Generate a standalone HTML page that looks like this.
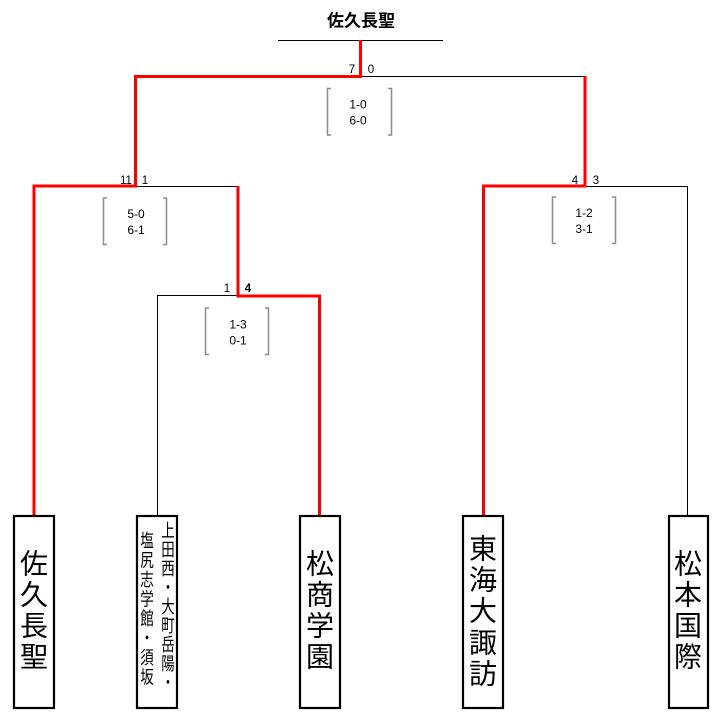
<!DOCTYPE html>
<html><head><meta charset="utf-8"><style>
html,body{margin:0;padding:0;background:#fff;}
svg{display:block;}
.s{font-family:"Liberation Sans","Noto Sans CJK JP",sans-serif;font-size:12px;fill:#000;}
.n{font-family:"Liberation Sans",sans-serif;font-size:11.5px;fill:#000;}
.t{font-family:"Liberation Sans","Noto Sans CJK JP",sans-serif;fill:#000;}
</style></head><body>
<svg width="718" height="720" viewBox="0 0 718 720" xmlns="http://www.w3.org/2000/svg">
<rect width="718" height="720" fill="#fff"/>
<!-- title -->
<text class="t" x="361" y="21" font-size="17" font-weight="bold" text-anchor="middle" dominant-baseline="central">佐久長聖</text>
<line x1="278" y1="40.5" x2="443" y2="40.5" stroke="#000" stroke-width="1"/>

<!-- black lines -->
<g stroke="#000" stroke-width="1" fill="none">
<polyline points="361,76.5 586,76.5"/>
<polyline points="136,186.5 238,186.5"/>
<polyline points="157.5,515 157.5,295.5 238,295.5"/>
<polyline points="585,186.5 687.5,186.5 687.5,515"/>
</g>

<!-- red lines -->
<g stroke="#ff0000" stroke-width="3" fill="none" stroke-linejoin="miter">
<polyline points="34,515 34,186 135.5,186 135.5,76.5 360.5,76.5 360.5,40"/>
<polyline points="238,186 238,296 319.5,296 319.5,515"/>
<polyline points="483.5,515 483.5,186 585,186 585,76"/>
</g>

<!-- score labels -->
<text class="n" x="352" y="73" text-anchor="middle">7</text>
<text class="n" x="371" y="73" text-anchor="middle">0</text>
<text class="n" x="126" y="184" text-anchor="middle">11</text>
<text class="n" x="145" y="184" text-anchor="middle">1</text>
<text class="n" x="227" y="292" text-anchor="middle">1</text>
<text class="n" x="248" y="292" text-anchor="middle" font-weight="bold" font-size="12.5">4</text>
<text class="n" x="575" y="184" text-anchor="middle">4</text>
<text class="n" x="596" y="184" text-anchor="middle">3</text>

<!-- score brackets -->
<g stroke="#8c8c8c" stroke-width="1.5" fill="none">
<polyline points="331,88.5 327.5,88.5 327.5,135 331,135"/>
<polyline points="388,88.5 391.5,88.5 391.5,135 388,135"/>
<polyline points="107,198 103.5,198 103.5,244.5 107,244.5"/>
<polyline points="163,198 166.5,198 166.5,244.5 163,244.5"/>
<polyline points="209,308 205.5,308 205.5,354.5 209,354.5"/>
<polyline points="265,308 268.5,308 268.5,354.5 265,354.5"/>
<polyline points="556,197 552.5,197 552.5,243.5 556,243.5"/>
<polyline points="612,197 615.5,197 615.5,243.5 612,243.5"/>
</g>
<g class="s" text-anchor="middle">
<text x="358" y="108.5">1-0</text>
<text x="358" y="124.5">6-0</text>
<text x="136" y="218">5-0</text>
<text x="136" y="234">6-1</text>
<text x="238" y="328.5">1-3</text>
<text x="238" y="344.5">0-1</text>
<text x="584" y="217">1-2</text>
<text x="584" y="233">3-1</text>
</g>

<!-- team boxes -->
<g stroke="#000" stroke-width="2.2" fill="#fff">
<rect x="14" y="516" width="40" height="192"/>
<rect x="137" y="516" width="40" height="192"/>
<rect x="300" y="516" width="40" height="192"/>
<rect x="463" y="516" width="40" height="192"/>
<rect x="669" y="516" width="39" height="192"/>
</g>

<g class="t" font-size="28" text-anchor="middle" dominant-baseline="central">
<text x="34" y="564">佐</text>
<text x="34" y="595">久</text>
<text x="34" y="626">長</text>
<text x="34" y="657">聖</text>

<text x="320" y="564">松</text>
<text x="320" y="595">商</text>
<text x="320" y="626">学</text>
<text x="320" y="657">園</text>

<text x="483" y="549">東</text>
<text x="483" y="580">海</text>
<text x="483" y="611">大</text>
<text x="483" y="643">諏</text>
<text x="483" y="674">訪</text>

<text x="688" y="564">松</text>
<text x="688" y="595">本</text>
<text x="688" y="626">国</text>
<text x="688" y="657">際</text>
</g>

<g class="t" font-size="18" text-anchor="middle" dominant-baseline="central" transform="matrix(0.75,0,0,1,168,0)">
<text x="0" y="532">上</text>
<text x="0" y="551">田</text>
<text x="0" y="570">西</text>
<text x="0" y="589">・</text>
<text x="0" y="608">大</text>
<text x="0" y="627">町</text>
<text x="0" y="646">岳</text>
<text x="0" y="665">陽</text>
<text x="0" y="684">・</text>
</g>
<g class="t" font-size="18" text-anchor="middle" dominant-baseline="central" transform="matrix(0.75,0,0,1,147,0)">
<text x="0" y="542">塩</text>
<text x="0" y="561.5">尻</text>
<text x="0" y="581">志</text>
<text x="0" y="600.5">学</text>
<text x="0" y="620">館</text>
<text x="0" y="639.5">・</text>
<text x="0" y="659">須</text>
<text x="0" y="678.5">坂</text>
</g>
</svg>
</body></html>
